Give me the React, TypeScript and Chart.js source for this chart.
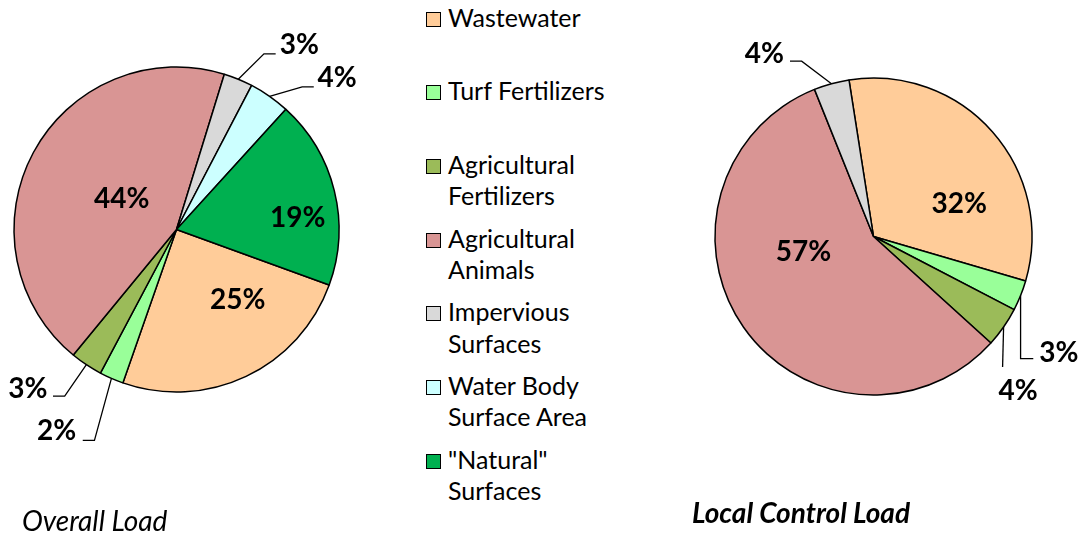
import React, { useEffect, useRef } from "react";
import Chart from "chart.js/auto";

// ---------- data ----------
const categories = [
  "Wastewater",
  "Turf Fertilizers",
  "Agricultural Fertilizers",
  "Agricultural Animals",
  "Impervious Surfaces",
  "Water Body Surface Area",
  "\"Natural\" Surfaces",
];
const legendLines = [
  ["Wastewater"],
  ["Turf Fertilizers"],
  ["Agricultural", "Fertilizers"],
  ["Agricultural", "Animals"],
  ["Impervious", "Surfaces"],
  ["Water Body", "Surface Area"],
  ["\"Natural\"", "Surfaces"],
];
const sliceColors = ["#FFCC99", "#99FF99", "#9BBB59", "#D99594", "#D9D9D9", "#CCFFFF", "#00B050"];
const overallValues = [24.8, 2.4, 3.2, 43.8, 2.9, 4.1, 18.8];
const localValues = [32.0, 3.1, 4.1, 57.2, 3.6, 0, 0];
const overallTitle = "Overall Load";
const localTitle = "Local Control Load";

// ---------- label placement (style) ----------
type Place =
  | { type: "in"; shift: number; frac: number }
  | { type: "out"; elbow: number[]; end: number[]; text: number[]; align: "left" | "right" }
  | null;

const overallPlacement: Place[] = [
  { type: "in", shift: -16, frac: 0.57 },
  { type: "out", elbow: [-17, 62], end: [-28.7, 62], text: [-35.3, 52], align: "right" },
  { type: "out", elbow: [-21.7, 31.4], end: [-33.4, 31.4], text: [-39, 23], align: "right" },
  { type: "in", shift: 2, frac: 0.39 },
  { type: "out", elbow: [25.7, -25.3], end: [37.4, -25.3], text: [41.4, -35], align: "left" },
  { type: "out", elbow: [32.6, -9.5], end: [44.2, -9.5], text: [48, -19], align: "left" },
  { type: "in", shift: 8, frac: 0.75 },
];
const localPlacement: Place[] = [
  { type: "in", shift: 20, frac: 0.58 },
  { type: "out", elbow: [0, 63], end: [12.7, 63], text: [18.7, 56], align: "left" },
  { type: "out", elbow: [-1, 40], end: [-1, 40], text: [-5, 63], align: "left" },
  { type: "in", shift: 23.5, frac: 0.45 },
  { type: "out", elbow: [-29.8, -22.5], end: [-41.5, -22.5], text: [-47.5, -31], align: "right" },
  null,
  null,
];

const LABEL_SIZE = 28;
const LABEL_FONT = `bold ${LABEL_SIZE}px Lato`;

function labelPlugin(placement: Place[]) {
  return {
    id: "sliceLabels",
    afterDatasetsDraw(chart: any) {
      const ctx = chart.ctx;
      const meta = chart.getDatasetMeta(0);
      const values = chart.data.datasets[0].data as number[];
      ctx.save();
      ctx.font = LABEL_FONT;
      ctx.fillStyle = "#000";
      ctx.strokeStyle = "#000";
      ctx.lineWidth = 1.3;
      ctx.textBaseline = "alphabetic";
      meta.data.forEach((arc: any, i: number) => {
        const p = placement[i];
        const v = values[i];
        if (!p || !v) return;
        const { x, y, startAngle, endAngle, outerRadius } = arc.getProps(
          ["x", "y", "startAngle", "endAngle", "outerRadius"],
          true
        );
        const mid = (startAngle + endAngle) / 2;
        const txt = Math.round(v) + "%";
        const capOff = LABEL_SIZE * 0.358;
        if (p.type === "in") {
          const a = mid + (p.shift * Math.PI) / 180;
          const lx = x + Math.cos(a) * outerRadius * p.frac;
          const ly = y + Math.sin(a) * outerRadius * p.frac;
          ctx.textAlign = "center";
          ctx.fillText(txt, lx, ly + capOff);
        } else {
          const ex = x + Math.cos(mid) * outerRadius;
          const ey = y + Math.sin(mid) * outerRadius;
          ctx.beginPath();
          ctx.moveTo(ex, ey);
          ctx.lineTo(ex + p.elbow[0], ey + p.elbow[1]);
          ctx.lineTo(ex + p.end[0], ey + p.end[1]);
          ctx.stroke();
          ctx.textAlign = p.align;
          ctx.fillText(txt, ex + p.text[0], ey + p.text[1] + capOff);
        }
      });
      ctx.restore();
    },
  };
}

function makePie(
  canvas: HTMLCanvasElement,
  values: number[],
  placement: Place[],
  rotation: number,
  radius: number,
  padding: any
) {
  return new Chart(canvas, {
    type: "pie",
    data: {
      labels: categories,
      datasets: [
        {
          data: values,
          backgroundColor: sliceColors,
          borderColor: "#000",
          borderWidth: 1.5,
        },
      ],
    },
    options: {
      responsive: false,
      maintainAspectRatio: false,
      animation: false,
      rotation,
      radius,
      layout: { padding },
      plugins: { legend: { display: false }, tooltip: { enabled: false } },
    } as any,
    plugins: [labelPlugin(placement)],
  });
}

export default function App() {
  const leftRef = useRef<HTMLCanvasElement>(null);
  const rightRef = useRef<HTMLCanvasElement>(null);

  useEffect(() => {
    const c1 = makePie(leftRef.current!, overallValues, overallPlacement, 110, 162.5, {
      left: 0,
      top: 0,
      right: 47,
      bottom: 77,
    });
    const c2 = makePie(rightRef.current!, localValues, localPlacement, -8.9, 158.5, {
      left: 0,
      top: 0,
      right: 0,
      bottom: 63,
    });
    return () => {
      c1.destroy();
      c2.destroy();
    };
  }, []);

  const legendFont = "Lato, 'Open Sans', sans-serif";

  return (
    <div
      style={{
        position: "absolute",
        left: 0,
        top: 0,
        width: 1082,
        height: 536,
        overflow: "hidden",
        background: "#fff",
        fontFamily: legendFont,
      }}
    >
      <canvas
        ref={leftRef}
        width={400}
        height={536}
        style={{ position: "absolute", left: 0, top: 0, width: 400, height: 536 }}
      />
      <canvas
        ref={rightRef}
        width={417}
        height={536}
        style={{ position: "absolute", left: 665, top: 0, width: 417, height: 536 }}
      />
      {legendLines.map((lines, i) => (
        <div
          key={categories[i]}
          style={{
            position: "absolute",
            left: 426,
            top: 1.5 + i * 73.67,
            fontSize: 25,
            lineHeight: "31.5px",
            color: "#000",
            whiteSpace: "nowrap",
          }}
        >
          <div
            style={{
              position: "absolute",
              left: 0,
              top: 10,
              width: 13,
              height: 13,
              background: sliceColors[i],
              border: "1.5px solid #000",
            }}
          />
          <div style={{ marginLeft: 22 }}>
            {lines.map((l, j) => (
              <div key={j}>{l}</div>
            ))}
          </div>
        </div>
      ))}
      <div
        style={{
          position: "absolute",
          left: 22,
          top: 505,
          fontSize: 28,
          lineHeight: "31.5px",
          fontStyle: "italic",
          whiteSpace: "nowrap",
        }}
      >
        {overallTitle}
      </div>
      <div
        style={{
          position: "absolute",
          left: 692,
          top: 497,
          fontSize: 28,
          lineHeight: "31.5px",
          fontStyle: "italic",
          fontWeight: "bold",
          whiteSpace: "nowrap",
        }}
      >
        {localTitle}
      </div>
    </div>
  );
}
